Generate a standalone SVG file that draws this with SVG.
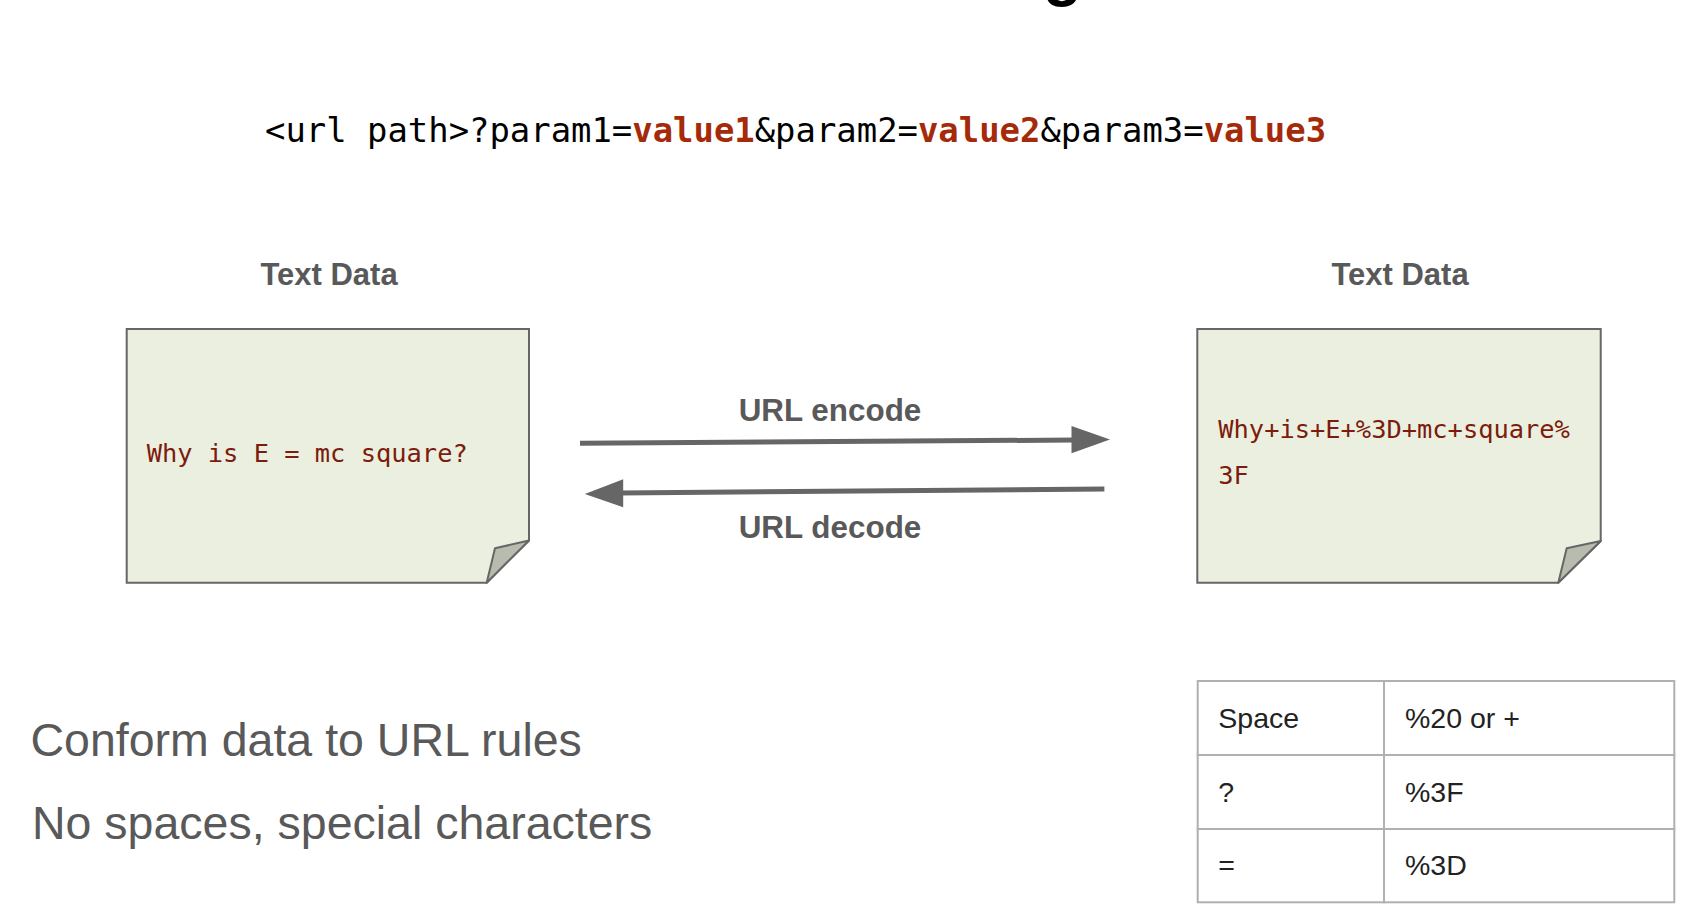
<svg xmlns="http://www.w3.org/2000/svg" width="1690" height="917" viewBox="0 0 1690 917">
<style>
.mono{font-family:"DejaVu Sans Mono","Liberation Mono",monospace}
.url{font-size:33.9px;fill:#000}
.val{fill:#a52a0a;font-weight:bold}
.hdr{font-family:"Liberation Sans",Arial,sans-serif;font-weight:bold;font-size:31px;fill:#595959;text-anchor:middle}
.lbl{font-family:"Liberation Sans",Arial,sans-serif;font-weight:bold;font-size:31.4px;fill:#595959;text-anchor:middle}
.note{fill:#ebefe0;stroke:#666;stroke-width:2}
.fold{fill:#b8bcae;stroke:#666;stroke-width:2;stroke-linejoin:round}
.ntxt{font-size:25.4px;fill:#7b1c0c}
.body{font-family:"Liberation Sans",Arial,sans-serif;font-size:46.5px;fill:#595959}
.cell{fill:#fff;stroke:#b0b0b0;stroke-width:2}
.ttxt{font-family:"Liberation Sans",Arial,sans-serif;font-size:28.5px;fill:#222}
.arr{stroke:#666;stroke-width:5;fill:none}
.head{fill:#666}
</style>
<rect width="1690" height="917" fill="#fff"/>
<text x="1043" y="-6" font-family="Liberation Sans,Arial,sans-serif" font-weight="bold" font-size="64" fill="#000">g</text>
<text class="mono url" x="265" y="141.5">&lt;url path&gt;?param1=<tspan class="val">value1</tspan>&amp;param2=<tspan class="val">value2</tspan>&amp;param3=<tspan class="val">value3</tspan></text>
<g id="node-left">
<text class="hdr" x="329" y="285">Text Data</text>
<path class="note" d="M126.7,329 H529 V540.5 L486.7,582.7 H126.7 Z"/>
<path class="fold" d="M529,540.5 L495,548.3 L486.7,582.7 Z"/>
<text class="mono ntxt" x="146.7" y="462">Why is E = mc square?</text>
</g>
<g id="node-right">
<text class="hdr" x="1400" y="285">Text Data</text>
<path class="note" d="M1197.3,329 H1600.7 V541 L1558.3,582.7 H1197.3 Z"/>
<path class="fold" d="M1600.7,541 L1566.7,548.3 L1558.3,582.7 Z"/>
<text class="mono ntxt" x="1218.3" y="438.3">Why+is+E+%3D+mc+square%</text>
<text class="mono ntxt" x="1218.3" y="484.3">3F</text>
</g>
<g id="connectors">
<line class="arr" x1="580" y1="443.3" x2="1074" y2="440"/>
<polygon class="head" points="1071.5,426 1110,439.5 1071.5,453.3"/>
<text class="lbl" x="830" y="420.7">URL encode</text>
<line class="arr" x1="1104.4" y1="489" x2="620" y2="493"/>
<polygon class="head" points="623.2,479.3 584.8,494 623.2,507.3"/>
<text class="lbl" x="830" y="538.3">URL decode</text>
</g>
<g id="notes">
<text class="body" x="30.5" y="755.5">Conform data to URL rules</text>
<text class="body" x="32" y="838.5">No spaces, special characters</text>
</g>
<g id="table">
<rect class="cell" x="1197.7" y="681" width="186.3" height="74"/>
<rect class="cell" x="1384" y="681" width="290.3" height="74"/>
<rect class="cell" x="1197.7" y="755" width="186.3" height="74"/>
<rect class="cell" x="1384" y="755" width="290.3" height="74"/>
<rect class="cell" x="1197.7" y="829" width="186.3" height="73.3"/>
<rect class="cell" x="1384" y="829" width="290.3" height="73.3"/>
<text class="ttxt" x="1218.3" y="728.3">Space</text>
<text class="ttxt" x="1405" y="728.3">%20 or +</text>
<text class="ttxt" x="1218.3" y="801.7">?</text>
<text class="ttxt" x="1405" y="801.7">%3F</text>
<text class="ttxt" x="1218.3" y="875">=</text>
<text class="ttxt" x="1405" y="875">%3D</text>
</g>
</svg>
